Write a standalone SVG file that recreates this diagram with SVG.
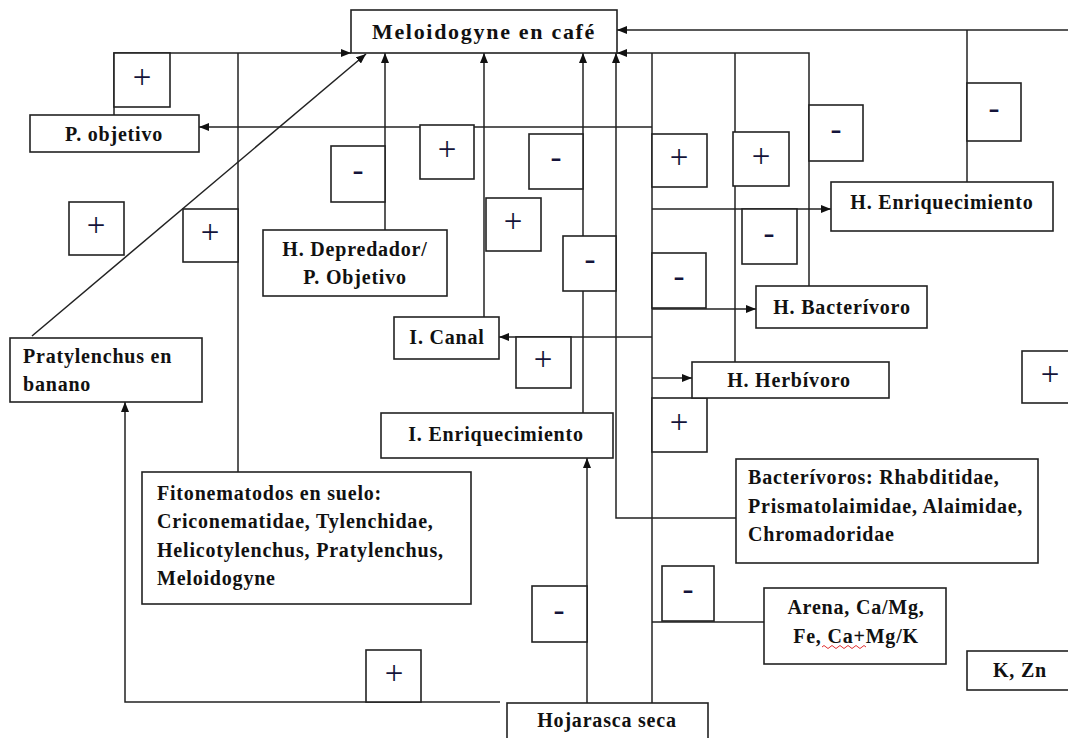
<svg xmlns="http://www.w3.org/2000/svg" width="1068" height="738" viewBox="0 0 1068 738">
<defs>
<style>
.box{fill:#fff;stroke:#222;stroke-width:1.6}
.c{fill:none;stroke:#222;stroke-width:1.5}
.lb{font-family:"Liberation Serif","Times New Roman",serif;font-weight:bold;font-size:20px;letter-spacing:0.8px;fill:#111}
.mid{text-anchor:middle}
.sg{font-family:"Liberation Serif","Times New Roman",serif;font-size:33px;fill:#14143a;text-anchor:middle}
</style>
<marker id="ah" viewBox="0 0 10 8" refX="10" refY="4" markerWidth="10" markerHeight="8" markerUnits="userSpaceOnUse" orient="auto">
<path d="M0,0 L10,4 L0,8 z" fill="#111"/>
</marker>
</defs>
<rect width="1068" height="738" fill="#fff"/>
<g id="connectors">
<path class="c" d="M114,115 V53 H351" marker-end="url(#ah)"/>
<path class="c" d="M238,472 V53"/>
<path class="c" d="M32,336 L366,54" marker-end="url(#ah)"/>
<path class="c" d="M385,230 V53" marker-end="url(#ah)"/>
<path class="c" d="M484,317 V53" marker-end="url(#ah)"/>
<path class="c" d="M583,413 V53" marker-end="url(#ah)"/>
<path class="c" d="M736,518 H616 V53" marker-end="url(#ah)"/>
<path class="c" d="M809,286 V53 H617" marker-end="url(#ah)"/>
<path class="c" d="M735,362 V53"/>
<path class="c" d="M1068,30 H617" marker-end="url(#ah)"/>
<path class="c" d="M967,182 V30"/>
<path class="c" d="M652,703 V53"/>
<path class="c" d="M652,127 H199" marker-end="url(#ah)"/>
<path class="c" d="M652,209 H831" marker-end="url(#ah)"/>
<path class="c" d="M652,309 H756" marker-end="url(#ah)"/>
<path class="c" d="M652,337 H499" marker-end="url(#ah)"/>
<path class="c" d="M652,378 H692" marker-end="url(#ah)"/>
<path class="c" d="M652,622 H764"/>
<path class="c" d="M587,703 V458" marker-end="url(#ah)"/>
<path class="c" d="M500,702 H125 V402" marker-end="url(#ah)"/>
</g>
<g id="signs">
<g id="s1"><rect class="box" x="114" y="53" width="56" height="54"/><text class="sg" x="142" y="88">+</text></g>
<g id="s2"><rect class="box" x="69" y="202" width="55" height="53"/><text class="sg" x="96" y="236">+</text></g>
<g id="s3"><rect class="box" x="183" y="209" width="55" height="53"/><text class="sg" x="210" y="243">+</text></g>
<g id="s4"><rect class="box" x="331" y="146" width="54" height="56"/><text class="sg" x="358" y="181">-</text></g>
<g id="s5"><rect class="box" x="420" y="125" width="54" height="54"/><text class="sg" x="447" y="160">+</text></g>
<g id="s6"><rect class="box" x="486" y="198" width="55" height="53"/><text class="sg" x="513" y="232">+</text></g>
<g id="s7"><rect class="box" x="529" y="134" width="54" height="55"/><text class="sg" x="556" y="168">-</text></g>
<g id="s8"><rect class="box" x="563" y="236" width="53" height="55"/><text class="sg" x="590" y="270">-</text></g>
<g id="s9"><rect class="box" x="516" y="337" width="55" height="51"/><text class="sg" x="543" y="370">+</text></g>
<g id="s10"><rect class="box" x="652" y="134" width="55" height="53"/><text class="sg" x="679" y="168">+</text></g>
<g id="s11"><rect class="box" x="733" y="132" width="56" height="54"/><text class="sg" x="761" y="167">+</text></g>
<g id="s12"><rect class="box" x="809" y="105" width="54" height="56"/><text class="sg" x="836" y="140">-</text></g>
<g id="s13"><rect class="box" x="967" y="83" width="54" height="58"/><text class="sg" x="994" y="119">-</text></g>
<g id="s14"><rect class="box" x="742" y="209" width="55" height="55"/><text class="sg" x="769" y="244">-</text></g>
<g id="s15"><rect class="box" x="652" y="253" width="54" height="55"/><text class="sg" x="679" y="287">-</text></g>
<g id="s16"><rect class="box" x="652" y="398" width="55" height="54"/><text class="sg" x="679" y="433">+</text></g>
<g id="s17"><rect class="box" x="1022" y="351" width="55" height="52"/><text class="sg" x="1050" y="385">+</text></g>
<g id="s18"><rect class="box" x="532" y="586" width="55" height="56"/><text class="sg" x="559" y="621">-</text></g>
<g id="s19"><rect class="box" x="662" y="566" width="52" height="55"/><text class="sg" x="688" y="600">-</text></g>
<g id="s20"><rect class="box" x="366" y="650" width="55" height="52"/><text class="sg" x="394" y="684">+</text></g>
</g>
<g id="n-meloidogyne"><rect class="box" x="351" y="10" width="266" height="43"/><text class="lb mid" x="484" y="39" style="font-size:22px;letter-spacing:1.7px">Meloidogyne en café</text></g>
<g id="n-pobjetivo"><rect class="box" x="30" y="115" width="169" height="37"/><text class="lb mid" x="114" y="141">P. objetivo</text></g>
<g id="n-pratylenchus"><rect class="box" x="10" y="338" width="192" height="64"/><text class="lb" x="23" y="363">Pratylenchus en</text><text class="lb" x="23" y="391">banano</text></g>
<g id="n-hdepredador"><rect class="box" x="263" y="230" width="184" height="66"/><text class="lb mid" x="355" y="256">H. Depredador/</text><text class="lb mid" x="355" y="284">P. Objetivo</text></g>
<g id="n-icanal"><rect class="box" x="394" y="317" width="105" height="42"/><text class="lb mid" x="447" y="344">I. Canal</text></g>
<g id="n-ienriq"><rect class="box" x="381" y="413" width="232" height="45"/><text class="lb mid" x="496" y="441">I. Enriquecimiento</text></g>
<g id="n-henriq"><rect class="box" x="831" y="182" width="222" height="49"/><text class="lb mid" x="942" y="209">H. Enriquecimiento</text></g>
<g id="n-hbact"><rect class="box" x="756" y="286" width="171" height="42"/><text class="lb mid" x="842" y="314">H. Bacterívoro</text></g>
<g id="n-hherb"><rect class="box" x="692" y="362" width="197" height="36"/><text class="lb mid" x="789" y="387">H. Herbívoro</text></g>
<g id="n-fito"><rect class="box" x="142" y="472" width="329" height="132"/>
<text class="lb" x="157" y="500">Fitonematodos en suelo:</text>
<text class="lb" x="157" y="528">Criconematidae, Tylenchidae,</text>
<text class="lb" x="157" y="557">Helicotylenchus, Pratylenchus,</text>
<text class="lb" x="157" y="585">Meloidogyne</text></g>
<g id="n-bacterivoros"><rect class="box" x="736" y="459" width="302" height="104"/>
<text class="lb" x="748" y="484">Bacterívoros: Rhabditidae,</text>
<text class="lb" x="748" y="513">Prismatolaimidae, Alaimidae,</text>
<text class="lb" x="748" y="541">Chromadoridae</text></g>
<g id="n-arena"><rect class="box" x="764" y="588" width="182" height="76"/>
<text class="lb mid" x="856" y="614">Arena, Ca/Mg,</text>
<text class="lb mid" x="856" y="643">Fe, Ca+Mg/K</text>
<path d="M822,647 q2,-3 4,0 t4,0 t4,0 t4,0 t4,0 t4,0 t4,0 t4,0 t4,0 t4,0 t4,0" fill="none" stroke="#e03030" stroke-width="1"/></g>
<g id="n-kzn"><rect class="box" x="967" y="651" width="110" height="39"/><text class="lb mid" x="1020" y="677">K, Zn</text></g>
<g id="n-hojarasca"><rect class="box" x="507" y="703" width="201" height="45"/><text class="lb mid" x="607" y="727">Hojarasca seca</text></g>
</svg>
